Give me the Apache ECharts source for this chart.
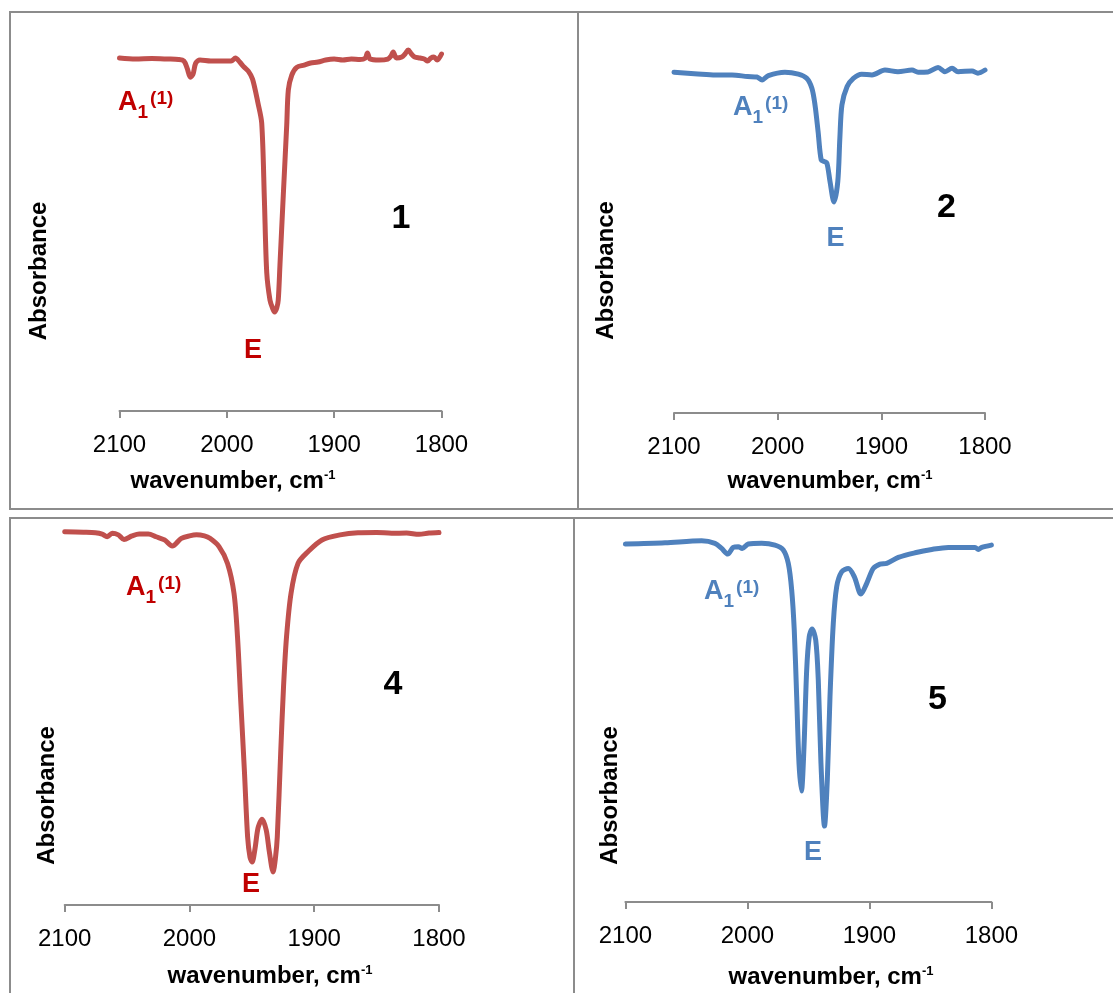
<!DOCTYPE html>
<html>
<head>
<meta charset="utf-8">
<title>IR spectra 1, 2, 4, 5</title>
<script src="https://cdn.jsdelivr.net/npm/echarts@6/dist/echarts.min.js"></script>
<style>
  html, body { margin: 0; padding: 0; background: #fff; }
  #chart { width: 1113px; height: 993px; }
</style>
</head>
<body>
<div id="chart"></div>
<script>
// spectra: wavenumber (cm-1) and absorbance (a.u., drawn downwards)
const wn1 = [2100, 2085, 2070, 2055, 2045, 2040, 2037, 2034, 2031.5, 2029,
  2025, 2015, 2005, 1996, 1992, 1988, 1984, 1980, 1976, 1971,
  1967.5, 1965, 1962.8, 1959.8, 1957.5, 1955.5, 1953.5, 1952.1, 1950.5, 1947.4,
  1944.2, 1942.7, 1939.5, 1934.9, 1928, 1922, 1915, 1908, 1900, 1892,
  1884, 1876, 1871, 1869, 1866.5, 1858, 1850, 1847, 1845, 1842,
  1837, 1834, 1831, 1828, 1825, 1820, 1816, 1813, 1810, 1807, 1804, 1800];
const abs1 = [-0.004, 0.000, -0.002, 0.000, 0.002, 0.008, 0.036, 0.072, 0.060, 0.016,
  0.004, 0.008, 0.008, 0.008, -0.004, 0.012, 0.032, 0.048, 0.080, 0.175,
  0.255, 0.561, 0.851, 0.959, 0.990, 1.006, 0.990, 0.959, 0.819, 0.541,
  0.263, 0.123, 0.064, 0.033, 0.024, 0.016, 0.012, 0.004, 0.000, 0.004,
  0.000, 0.002, -0.004, -0.024, 0.000, 0.004, 0.000, -0.012, -0.028, -0.004,
  -0.008, -0.020, -0.036, -0.020, -0.008, -0.004, 0.000, 0.008, -0.004, -0.008, 0.004, -0.020];

const wn2 = [2100, 2077, 2060, 2044, 2029, 2020, 2015, 2009, 1993, 1980,
  1972, 1967, 1964, 1961, 1958, 1955, 1952.5, 1949.5, 1945.7, 1942,
  1940, 1938, 1933, 1927, 1919, 1909, 1896.5, 1884, 1870.4, 1864.6,
  1855, 1845.3, 1838.6, 1831.8, 1826, 1812.5, 1806.8, 1800];
const abs2 = [0.001, 0.008, 0.012, 0.012, 0.019, 0.021, 0.033, 0.015, 0.001, 0.009,
  0.026, 0.067, 0.135, 0.245, 0.361, 0.368, 0.374, 0.450, 0.534, 0.450,
  0.271, 0.135, 0.060, 0.026, 0.009, 0.012, -0.008, -0.001, -0.008, 0.001,
  0.000, -0.018, -0.001, -0.015, -0.001, -0.004, 0.005, -0.008];

const wn4 = [2100, 2085, 2075.4, 2070, 2065.9, 2061.9, 2057, 2052.5, 2046, 2040.3,
  2033, 2026.8, 2020, 2013.8, 2006.5, 2000, 1994.4, 1988, 1983.6, 1976.3,
  1969.5, 1964.3, 1961.5, 1958.8, 1956, 1953.4, 1951.5, 1949.8, 1947.5, 1945,
  1941.8, 1938.5, 1936, 1933, 1931, 1929.6, 1926.9, 1924.6, 1922.2, 1918.6,
  1913, 1905, 1893.8, 1879.3, 1865, 1850, 1838, 1826, 1816, 1808, 1800];
const abs4 = [0.000, 0.002, 0.004, 0.009, 0.019, 0.006, 0.012, 0.029, 0.016, 0.009,
  0.009, 0.019, 0.031, 0.054, 0.025, 0.016, 0.012, 0.016, 0.025, 0.056,
  0.119, 0.231, 0.394, 0.644, 0.894, 1.144, 1.220, 1.239, 1.190, 1.110,
  1.078, 1.119, 1.200, 1.276, 1.220, 1.144, 0.831, 0.581, 0.394, 0.231,
  0.119, 0.075, 0.031, 0.012, 0.004, 0.003, 0.006, 0.005, 0.010, 0.005, 0.003];

const wn5 = [2100, 2067.5, 2037.5, 2026.6, 2021.1, 2016.1, 2011.6, 2007.5, 2004.2, 1999.3,
  1988.3, 1977.4, 1970.6, 1966.5, 1963.7, 1961.6, 1959.6, 1957.7, 1955.7, 1953.6,
  1951.4, 1949.3, 1947, 1944, 1941.9, 1939.7, 1936.8, 1934.5, 1932.3, 1929.6,
  1926.8, 1922.7, 1917.3, 1912.4, 1906.9, 1902.2, 1896.8, 1891.3, 1885.8, 1876.3,
  1862.6, 1848.9, 1835.3, 1813.4, 1810.7, 1807.9, 1800];
const abs5 = [0.004, -0.001, -0.009, 0.001, 0.021, 0.043, 0.017, 0.014, 0.021, 0.004,
  0.001, 0.008, 0.027, 0.079, 0.183, 0.339, 0.599, 0.859, 0.967, 0.794,
  0.495, 0.365, 0.335, 0.378, 0.534, 0.859, 1.104, 0.924, 0.599, 0.313,
  0.170, 0.112, 0.099, 0.131, 0.199, 0.157, 0.099, 0.082, 0.079, 0.056,
  0.038, 0.025, 0.017, 0.017, 0.025, 0.017, 0.008];

const xTicks = [2100, 2000, 1900, 1800];
const sampleNames = ['1', '2', '4', '5'];

const RED = '#C0504D', RED_TXT = '#C00000', BLUE = '#4F81BD';
const FONT = '"Liberation Sans", Arial, Helvetica, sans-serif';

// panel layout (px in the 1113x993 page)
const panels = [
  {wn: wn1, abs: abs1, color: RED, txt: RED_TXT, grid: {left: 119.5, right: 671.5, top: 33.9, bottom: 582},
    a1: [118, 103], e: [244, 350.5], num: [401, 218.5], yname: [39.7, 271], xname: [233, 481]},
  {wn: wn2, abs: abs2, color: BLUE, txt: BLUE, grid: {left: 674, right: 128, top: 47.6, bottom: 580},
    a1: [733, 108], e: [826.5, 239], num: [946.5, 207.5], yname: [606.7, 270.5], xname: [830, 481]},
  {wn: wn4, abs: abs4, color: RED, txt: RED_TXT, grid: {left: 64.7, right: 674, top: 505, bottom: 88},
    a1: [126, 588], e: [242, 885], num: [393, 684.5], yname: [47.2, 795.5], xname: [270, 976]},
  {wn: wn5, abs: abs5, color: BLUE, txt: BLUE, grid: {left: 625.4, right: 121.6, top: 517.4, bottom: 91},
    a1: [704, 591.5], e: [804, 853], num: [937.5, 700], yname: [610.2, 795.5], xname: [831, 977]}
];

const measureCtx = document.createElement('canvas').getContext('2d');
function textWidth(str, size) {
  measureCtx.font = 'bold ' + size + 'px ' + FONT;
  return measureCtx.measureText(str).width;
}

function txt(x, y, text, size, color, align, weight) {
  return {
    type: 'text', x: x, y: y, silent: true,
    style: {text: text, fill: color, fontSize: size, fontWeight: weight || 'bold',
      fontFamily: FONT, align: align, verticalAlign: 'middle'}
  };
}

function a1Label(p) {
  const left = p.a1[0], yc = p.a1[1];
  const wA = textWidth('A', 27);
  const wSub = textWidth('1', 19);
  return [
    txt(left, yc, 'A', 27, p.txt, 'left'),
    txt(left + wA, yc + 10, '1', 19, p.txt, 'left'),
    txt(left + wA + wSub + 2, yc - 4, '(1)', 19, p.txt, 'left')
  ];
}

function xTitle(p) {
  const main = 'wavenumber, cm';
  const wMain = textWidth(main, 24);
  const wSup = textWidth('-1', 13);
  const left = p.xname[0] - (wMain + wSup) / 2;
  return [
    txt(left, p.xname[1], main, 24, '#000', 'left'),
    txt(left + wMain, p.xname[1] - 6, '-1', 13, '#000', 'left')
  ];
}

let graphics = [];
// panel frames
const GRAY = '#8c8c8c';
function hline(y, x1, x2) { return {type: 'line', silent: true, shape: {x1: x1, y1: y, x2: x2, y2: y}, style: {stroke: GRAY, lineWidth: 2}}; }
function vline(x, y1, y2) { return {type: 'line', silent: true, shape: {x1: x, y1: y1, x2: x, y2: y2}, style: {stroke: GRAY, lineWidth: 2}}; }
graphics.push(hline(12, 9, 1113), hline(509, 9, 1113), hline(518, 9, 1113));
graphics.push(vline(10, 11, 510), vline(10, 517, 993), vline(578, 11, 510), vline(574, 517, 993));

panels.forEach(function (p, i) {
  graphics = graphics.concat(a1Label(p), xTitle(p));
  graphics.push(txt(p.e[0], p.e[1], 'E', 27, p.txt, 'left'));
  graphics.push(txt(p.num[0], p.num[1], sampleNames[i], 34, '#000', 'center'));
  const yn = txt(p.yname[0], p.yname[1], 'Absorbance', 24, '#000', 'center');
  yn.rotation = Math.PI / 2;
  graphics.push(yn);
});

const chart = echarts.init(document.getElementById('chart'), null, {renderer: 'canvas'});
chart.setOption({
  animation: false,
  backgroundColor: '#fff',
  grid: panels.map(function (p) {
    return Object.assign({containLabel: false, outerBoundsMode: 'none'}, p.grid);
  }),
  xAxis: panels.map(function (p, i) {
    return {
      type: 'value', gridIndex: i, min: 1800, max: 2100, interval: 100, inverse: true,
      axisLine: {show: true, onZero: false, lineStyle: {color: GRAY, width: 2}},
      axisTick: {show: true, inside: false, length: 7, lineStyle: {color: GRAY, width: 2}},
      axisLabel: {show: true, margin: 22, fontSize: 24, color: '#000', fontFamily: FONT,
        formatter: function (v) { return xTicks.indexOf(v) >= 0 ? String(v) : ''; }},
      splitLine: {show: false}
    };
  }),
  yAxis: panels.map(function (p, i) {
    return {type: 'value', gridIndex: i, inverse: true, min: -0.1, max: 1.4, show: false};
  }),
  series: panels.map(function (p, i) {
    return {
      type: 'line', xAxisIndex: i, yAxisIndex: i, silent: true,
      data: p.wn.map(function (w, k) { return [w, p.abs[k]]; }),
      showSymbol: false, symbol: 'none', smooth: 0.3,
      lineStyle: {color: p.color, width: 5, cap: 'round', join: 'round'}
    };
  }),
  graphic: graphics
});
</script>
</body>
</html>
